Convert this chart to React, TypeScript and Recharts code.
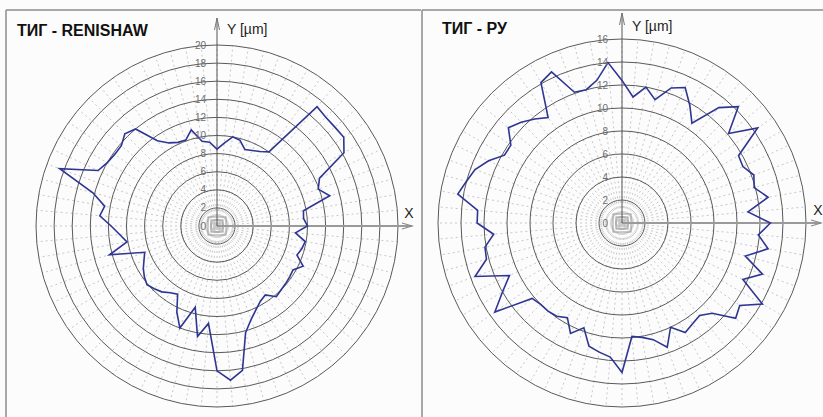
import React from 'react';
import { RadarChart, Radar, PolarGrid, PolarAngleAxis, PolarRadiusAxis, Customized } from 'recharts';

// Angle categories (degrees, counter-clockwise from +X)
const angles = [
  0, 5, 10, 15, 20, 25, 30, 35, 40, 45, 50, 55,
  60, 65, 70, 75, 80, 85, 90, 95, 100, 105, 110, 115,
  120, 125, 130, 135, 140, 145, 150, 155, 160, 165, 170, 175,
  180, 185, 190, 195, 200, 205, 210, 215, 220, 225, 230, 235,
  240, 245, 250, 255, 260, 265, 270, 275, 280, 285, 290, 295,
  300, 305, 310, 315, 320, 325, 330, 335, 340, 345, 350, 355,
];

// ТИГ - RENISHAW deviations [µm]
const renishaw = [
  10.0, 9.6, 9.7, 12.9, 11.9, 12.5, 16.2, 17.1, 17.0, 17.0, 17.2, 10.0,
  9.5, 9.2, 9.0, 9.8, 10.0, 9.2, 8.5, 9.3, 9.5, 11.0, 10.1, 10.2,
  10.6, 11.5, 14.0, 14.4, 13.8, 13.8, 14.0, 14.5, 18.5, 14.2, 12.6, 13.0,
  11.7, 10.8, 10.1, 12.3, 8.5, 8.9, 9.4, 9.8, 10.1, 9.8, 9.5, 9.0,
  8.7, 10.5, 12.0, 9.3, 12.4, 10.8, 16.0, 17.1, 16.2, 12.2, 11.0, 10.2,
  9.6, 9.3, 10.2, 10.0, 9.9, 9.8, 9.7, 10.5, 9.4, 9.7, 9.9, 8.7,
];

// ТИГ - РУ deviations [µm]
const ru = [
  12.9, 11.0, 12.9, 11.9, 12.2, 11.6, 11.7, 14.4, 12.1, 14.3, 13.1, 10.6,
  11.8, 13.0, 12.5, 11.1, 12.0, 11.0, 12.4, 14.0, 12.6, 12.0, 12.1, 14.5,
  14.1, 11.2, 11.8, 12.4, 12.9, 11.8, 11.8, 12.8, 13.6, 14.0, 14.5, 12.6,
  12.6, 11.2, 12.1, 12.2, 13.6, 10.8, 12.0, 13.5, 10.2, 10.0, 10.0, 9.9,
  9.5, 10.6, 9.7, 11.1, 11.4, 11.7, 13.0, 9.9, 10.1, 10.5, 11.5, 10.0,
  11.0, 10.7, 10.5, 11.1, 12.9, 12.5, 14.1, 11.6, 13.0, 11.1, 12.9, 11.9,
];

const leftTicks = [0, 2, 4, 6, 8, 10, 12, 14, 16, 18, 20];
const rightTicks = [0, 2, 4, 6, 8, 10, 12, 14, 16];

const FONT = '"Liberation Sans", Arial, sans-serif';

type PanelProps = {
  title: string;
  values: number[];
  ticks: number[];
  width: number;
  height: number;
  cx: number;
  cy: number;
  R: number;
  frameX: number;
  xTip: number;
  yTip: number;
  titleX: number;
  titleY: number;
  yLabelY: number;
  labelDx: number;
};

function Panel(p: PanelProps) {
  const data = angles.map((a, i) => ({ angle: a, r: p.values[i] }));
  const max = p.ticks[p.ticks.length - 1];

  const Deco = () => (
    <g>
      {/* frame */}
      <line x1={p.frameX} y1={10} x2={p.width} y2={10} stroke="#8c8c8c" strokeWidth={1.5} />
      <line x1={p.frameX} y1={10} x2={p.frameX} y2={p.height} stroke="#8c8c8c" strokeWidth={1.5} />
      {/* title */}
      <text x={p.titleX} y={p.titleY} fontFamily={FONT} fontWeight="bold" fontSize={16} fill="#111">
        {p.title}
      </text>
      {/* center squares */}
      {[3, 6, 9].map((h) => (
        <rect key={h} x={p.cx - h} y={p.cy - h} width={2 * h} height={2 * h} fill="none" stroke="#9a9a9a" strokeWidth={1} />
      ))}
      {/* X axis */}
      <line x1={p.cx} y1={p.cy} x2={p.xTip} y2={p.cy} stroke="#9a9a9a" strokeWidth={2} />
      <polyline points={`${p.xTip - 10},${p.cy - 3} ${p.xTip},${p.cy} ${p.xTip - 10},${p.cy + 3}`} fill="none" stroke="#8a8a8a" strokeWidth={1.2} />
      <text x={p.xTip - 3} y={p.cy - 8} textAnchor="middle" fontFamily={FONT} fontSize={14} fill="#222">X</text>
      {/* Y axis */}
      <line x1={p.cx} y1={p.cy} x2={p.cx} y2={p.yTip} stroke="#555" strokeWidth={1} />
      <polyline points={`${p.cx - 2.5},${p.yTip + 12} ${p.cx},${p.yTip} ${p.cx + 2.5},${p.yTip + 12}`} fill="none" stroke="#777" strokeWidth={1} />
      <text x={p.cx + 10} y={p.yLabelY} fontFamily={FONT} fontSize={14} fill="#222">Y [µm]</text>
    </g>
  );

  const Tick = (tp: any) => (
    <text
      x={tp.x - p.labelDx}
      y={tp.y}
      textAnchor="end"
      dominantBaseline="central"
      fontFamily={FONT}
      fontSize={10}
      fill="#6e6e6e"
    >
      {tp.payload.value}
    </text>
  );

  return (
    <RadarChart
      width={p.width}
      height={p.height}
      data={data}
      cx={p.cx}
      cy={p.cy}
      innerRadius={0}
      outerRadius={p.R}
      startAngle={-5}
      endAngle={355}
      margin={{ top: 0, right: 0, bottom: 0, left: 0 }}
      style={{ background: '#fcfcfc' }}
    >
      <PolarGrid gridType="circle" polarAngles={angles} polarRadius={[]} stroke="#c8c8c8" strokeDasharray="2 3" />
      <PolarGrid gridType="circle" radialLines={false} stroke="#5a5a5a" strokeWidth={1} />
      <PolarAngleAxis dataKey="angle" tick={false} axisLine={false} />
      <PolarRadiusAxis
        angle={90}
        type="number"
        domain={[0, max]}
        ticks={p.ticks}
        tickCount={p.ticks.length}
        axisLine={false}
        tick={Tick}
      />
      <Customized component={Deco} />
      <Radar
        dataKey="r"
        stroke="#2e3592"
        strokeWidth={1.6}
        fill="none"
        fillOpacity={0}
        dot={false}
        isAnimationActive={false}
      />
    </RadarChart>
  );
}

export default function App() {
  return (
    <div style={{ position: 'absolute', left: 0, top: 0, width: 823, height: 417, background: '#fcfcfc', overflow: 'hidden' }}>
      <div style={{ position: 'absolute', left: 0, top: 0 }}>
        <Panel
          title="ТИГ - RENISHAW"
          values={renishaw}
          ticks={leftTicks}
          width={421}
          height={417}
          cx={217}
          cy={226}
          R={181}
          frameX={6}
          xTip={412}
          yTip={18}
          titleX={17}
          titleY={36}
          yLabelY={34}
          labelDx={11}
        />
      </div>
      <div style={{ position: 'absolute', left: 421, top: 0 }}>
        <Panel
          title="ТИГ - РУ"
          values={ru}
          ticks={rightTicks}
          width={402}
          height={417}
          cx={201}
          cy={223}
          R={184}
          frameX={1}
          xTip={400}
          yTip={13}
          titleX={21}
          titleY={34}
          yLabelY={31}
          labelDx={14}
        />
      </div>
    </div>
  );
}
